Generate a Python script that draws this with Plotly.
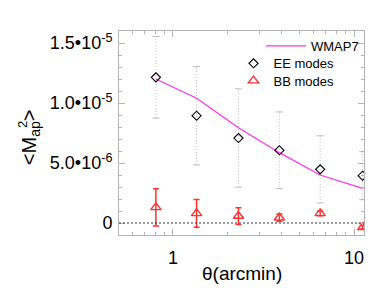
import plotly.graph_objects as go

theta = [0.805, 1.35, 2.30, 3.87, 6.5, 11.15]
ee = [1.214e-5, 8.94e-6, 7.08e-6, 6.06e-6, 4.47e-6, 3.94e-6]
ee_err = [3.4e-6, 4.1e-6, 4.1e-6, 3.2e-6, 2.8e-6, 2.0e-6]
bb = [1.3e-6, 0.8e-6, 0.58e-6, 0.44e-6, 0.8e-6, -0.36e-6]
bb_err = [1.55e-6, 1.15e-6, 0.7e-6, 0.3e-6, 0.2e-6, 0.15e-6]
wmap7 = [1.2e-5, 1.04e-5, 7.94e-6, 5.86e-6, 4.0e-6, 2.89e-6]

ytick_vals = [0, 5e-6, 1e-5, 1.5e-5]
ytick_text = ["0", "5.0•10<sup>-6</sup>", "1.0•10<sup>-5</sup>", "1.5•10<sup>-5</sup>"]
xtick_vals = [1, 10]
xtick_text = ["1", "10"]
xminor_vals = [0.6, 0.7, 0.8, 0.9, 2, 3, 4, 5, 6, 7, 8, 9]

FONT = "Liberation Sans, Arial, sans-serif"
AX = "#b4b4b4"
ERR = "#bdbdbd"

# dotted EE error bars built from the data
bar_x, bar_y = [], []
for xv, yv, ev in zip(theta, ee, ee_err):
    bar_x += [xv, xv, None]
    bar_y += [yv - ev, yv + ev, None]
cap_x = theta + theta
cap_y = [y + e for y, e in zip(ee, ee_err)] + [y - e for y, e in zip(ee, ee_err)]

fig = go.Figure()
fig.add_hline(y=0, line=dict(color="#333333", width=1, dash="2px,2px"))

fig.add_trace(go.Scatter(x=bar_x, y=bar_y, mode="lines", showlegend=False, hoverinfo="skip",
                         line=dict(color=ERR, width=1, dash="1px,2px")))
fig.add_trace(go.Scatter(x=cap_x, y=cap_y, mode="markers", showlegend=False, hoverinfo="skip",
                         marker=dict(symbol="line-ew", size=5, line=dict(color=ERR, width=1))))
fig.add_trace(go.Scatter(
    x=theta, y=wmap7, mode="lines", name="WMAP7",
    line=dict(color="#ff33ee", width=1.3),
    legend="legend",
))
fig.add_trace(go.Scatter(
    x=theta, y=ee, mode="markers", name="EE modes",
    marker=dict(symbol="diamond-open", size=7, color="black", line=dict(width=1.1)),
    legend="legend2",
))
fig.add_trace(go.Scatter(
    x=theta, y=bb, mode="markers", name="BB modes",
    marker=dict(symbol="triangle-up-open", size=9, color="#ff3030", line=dict(width=1.4)),
    error_y=dict(type="data", array=bb_err, color="#ff3030", thickness=1.5, width=3),
    legend="legend3",
))

fig.update_layout(
    width=366, height=291,
    margin=dict(l=111, r=10, t=23, b=64),
    paper_bgcolor="white", plot_bgcolor="white",
    font=dict(family=FONT, size=18, color="black"),
    showlegend=True,
    legend=dict(x=1.0, y=1.0, xanchor="right", yanchor="top", bgcolor="rgba(0,0,0,0)",
                font=dict(size=13), itemwidth=40),
    legend2=dict(x=0.90, y=0.915, xanchor="right", yanchor="top", bgcolor="rgba(0,0,0,0)",
                 font=dict(size=13), itemwidth=30),
    legend3=dict(x=0.90, y=0.83, xanchor="right", yanchor="top", bgcolor="rgba(0,0,0,0)",
                 font=dict(size=13), itemwidth=30),
)

fig.update_xaxes(
    type="log", range=[-0.298, 1.055],
    tickvals=xtick_vals, ticktext=xtick_text,
    ticks="inside", ticklen=6, tickcolor=AX,
    showline=True, linecolor=AX, linewidth=1, mirror="ticks",
    showgrid=False, zeroline=False,
    minor=dict(tickvals=xminor_vals, ticks="inside", ticklen=3, tickcolor=AX, showgrid=False),
    ticklabelstandoff=6,
)
fig.update_yaxes(
    range=[-1e-6, 1.6e-5],
    tickvals=ytick_vals, ticktext=ytick_text,
    ticks="inside", ticklen=6, tickcolor=AX,
    showline=True, linecolor=AX, linewidth=1, mirror="ticks",
    showgrid=False, zeroline=False,
    minor=dict(ticks="inside", ticklen=3, tickcolor=AX, dtick=1e-6, showgrid=False),
    ticklabelstandoff=2,
)

fig.add_annotation(text="θ(arcmin)", xref="paper", yref="paper", x=0.5, y=-0.19,
                   xanchor="center", yanchor="middle", showarrow=False,
                   font=dict(size=19, family=FONT))
fig.add_annotation(text="<M<sub>ap</sub>>", xref="paper", yref="paper",
                   x=-0.363, y=0.48, xanchor="center", yanchor="middle", textangle=-90,
                   showarrow=False, font=dict(size=20, family=FONT))
fig.add_annotation(text="2", xref="paper", yref="paper",
                   x=-0.396, y=0.544, xanchor="center", yanchor="middle", textangle=-90,
                   showarrow=False, font=dict(size=13, family=FONT))

fig.write_html("out.html")
